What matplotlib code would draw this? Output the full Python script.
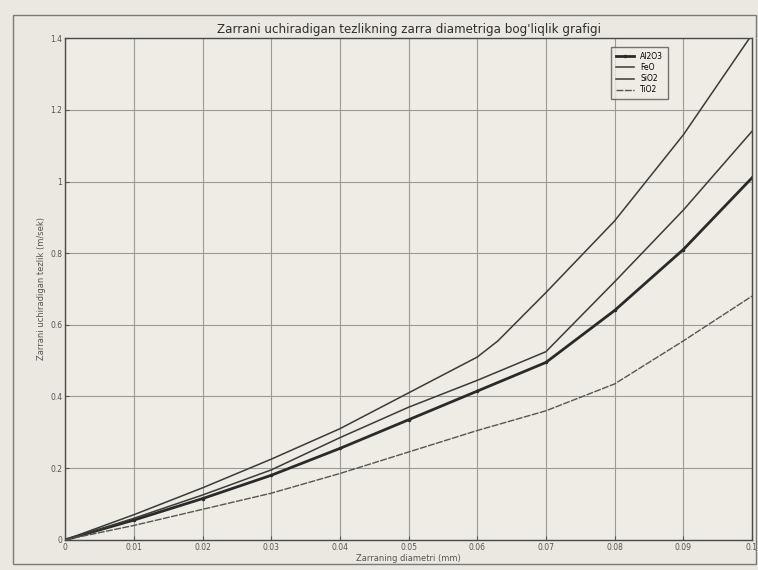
import matplotlib
matplotlib.use("Agg")
import matplotlib.pyplot as plt
from matplotlib.patches import Rectangle

# Data
x_al2o3 = [0, 0.01, 0.02, 0.03, 0.04, 0.05, 0.06, 0.07, 0.08, 0.09, 0.1]
y_al2o3 = [0, 0.055, 0.115, 0.18, 0.255, 0.335, 0.415, 0.495, 0.64, 0.81, 1.01]

x_feo = [0, 0.01, 0.02, 0.03, 0.04, 0.05, 0.06, 0.063, 0.07, 0.08, 0.09, 0.1]
y_feo = [0, 0.07, 0.145, 0.225, 0.31, 0.41, 0.51, 0.555, 0.69, 0.89, 1.13, 1.41]

x_sio2 = [0, 0.01, 0.02, 0.03, 0.04, 0.05, 0.06, 0.07, 0.08, 0.09, 0.1]
y_sio2 = [0, 0.06, 0.125, 0.195, 0.285, 0.37, 0.445, 0.525, 0.72, 0.92, 1.14]

x_tio2 = [0, 0.01, 0.02, 0.03, 0.04, 0.05, 0.06, 0.07, 0.08, 0.09, 0.1]
y_tio2 = [0, 0.04, 0.085, 0.13, 0.185, 0.245, 0.305, 0.36, 0.435, 0.555, 0.68]

labels = ["Al2O3", "FeO", "SiO2", "TiO2"]
xticks = [0, 0.01, 0.02, 0.03, 0.04, 0.05, 0.06, 0.07, 0.08, 0.09, 0.1]
xticklabels = ["0", "0.01", "0.02", "0.03", "0.04", "0.05", "0.06", "0.07", "0.08", "0.09", "0.1"]
yticks = [0, 0.2, 0.4, 0.6, 0.8, 1.0, 1.2, 1.4]
yticklabels = ["0", "0.2", "0.4", "0.6", "0.8", "1", "1.2", "1.4"]

title = "Zarrani uchiradigan tezlikning zarra diametriga bog'liqlik grafigi"
xlabel = "Zarraning diametri (mm)"
ylabel = "Zarrani uchiradigan tezlik (m/sek)"

paper = "#ebe8e1"
ink = "#3a3a38"

fig = plt.figure(figsize=(7.58, 5.70), dpi=100, facecolor=paper)
ax = fig.add_axes([0.086, 0.053, 0.906, 0.880], facecolor="#efece6")

# outer scanned-figure frame
fig.patches.append(Rectangle((0.017, 0.01), 0.98, 0.963, transform=fig.transFigure,
                             fill=False, edgecolor="#7a7a76", linewidth=1.0))

ax.plot(x_al2o3, y_al2o3, color="#2a2a28", linewidth=2.0, marker=".", markersize=3,
        label=labels[0])
ax.plot(x_feo, y_feo, color=ink, linewidth=1.1, label=labels[1])
ax.plot(x_sio2, y_sio2, color=ink, linewidth=1.1, label=labels[2])
ax.plot(x_tio2, y_tio2, color="#555552", linewidth=1.0, linestyle=(0, (5, 1)),
        label=labels[3])

ax.set_xlim(0, 0.1)
ax.set_ylim(0, 1.4)
ax.set_xticks(xticks)
ax.set_xticklabels(xticklabels)
ax.set_yticks(yticks)
ax.set_yticklabels(yticklabels)
ax.tick_params(direction="in", length=3, labelsize=5.5, colors="#555552", pad=2)
ax.grid(True, color="#999995", linewidth=0.8, linestyle="-")
for s in ax.spines.values():
    s.set_color("#4a4a48")
    s.set_linewidth(1.0)

ax.set_title(title, fontsize=8.6, color="#2e2e2c", pad=4)
ax.set_xlabel(xlabel, fontsize=6, color="#555552", labelpad=2)
ax.set_ylabel(ylabel, fontsize=6, color="#555552", labelpad=3)

leg = ax.legend(loc="upper right", bbox_to_anchor=(0.883, 0.99), fontsize=5.5,
                frameon=True, fancybox=False, edgecolor="#555552",
                facecolor="#efece6", handlelength=2.4, borderpad=0.6,
                labelspacing=0.3)
leg.get_frame().set_linewidth(1.0)

fig.savefig("out.png", dpi=100, facecolor=paper)
